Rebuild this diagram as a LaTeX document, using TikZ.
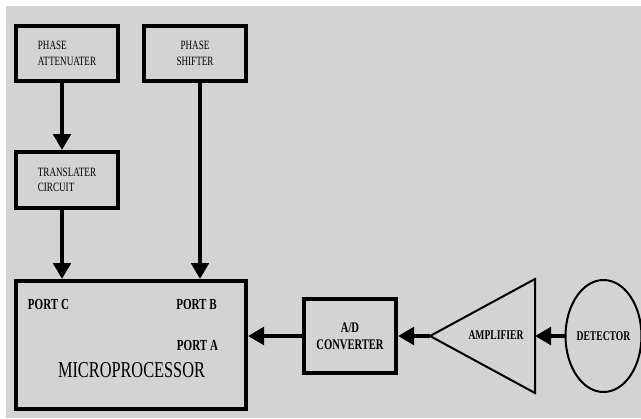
\documentclass[tikz,border=0pt]{standalone}
\usepackage{fontspec}
\setmainfont{Liberation Serif}
\newfontfamily\narrowfont[FakeStretch=0.72]{Liberation Serif}
\usetikzlibrary{arrows.meta, positioning, shapes.geometric}
\definecolor{panel}{RGB}{211,211,211}

\begin{document}
\begin{tikzpicture}[
    x=0.75pt, y=-0.75pt,
    block/.style={draw, line width=3pt, inner sep=0pt, align=center, font=\narrowfont\fontsize{9.5}{11.5}\selectfont},
    label/.style={inner sep=0pt, font=\narrowfont\bfseries\fontsize{11.5}{13}\selectfont},
    arrow/.style={-{Triangle[length=12pt, width=13pt]}, line width=3pt}
]
    % Background
    \fill[white] (0,0) rectangle (641,418);
    \useasboundingbox (0,0) rectangle (641,418);
    \fill[panel] (6,6) rectangle (641,418);

    % Phase blocks on top
    \node[block, align=left, minimum width=76.5pt, minimum height=41.25pt] (att) at (67,53.5) {PHASE\\ATTENUATER};
    \node[block, minimum width=76.5pt, minimum height=41.25pt] (shifter) at (195,53.5) {PHASE\\SHIFTER};
    \node[block, align=left, minimum width=76.5pt, minimum height=42pt] (trans) at (67,180) {TRANSLATER\\CIRCUIT};

    % Microprocessor and its ports
    \node[block, minimum width=172.5pt, minimum height=96pt] (micro) at (131,345) {};
    \node[label] (portc) at (48.5,304) {PORT C};
    \node[label] (portb) at (196.5,304) {PORT B};
    \node[label] (porta) at (197.5,345) {PORT A};
    \node[inner sep=0pt, font=\narrowfont\fontsize{17}{18}\selectfont] (mptext) at (131.5,370) {MICROPROCESSOR};

    % Signal chain on the right
    \node[block, font=\narrowfont\bfseries\fontsize{11}{13}\selectfont, minimum width=69pt, minimum height=55.5pt] (adc) at (350,336) {A/D\\CONVERTER};
    \draw[line width=1.5pt, line join=miter] (430,336) -- (535,279) -- (535,393) -- cycle;
    \coordinate (ampout) at (430,336);
    \coordinate (ampin) at (535,336);
    \node[label, font=\narrowfont\bfseries\fontsize{10}{11}\selectfont] (amp) at (496,335) {AMPLIFIER};
    \node[ellipse, draw, line width=1.5pt, inner sep=0pt, minimum width=51.75pt, minimum height=84pt, font=\narrowfont\bfseries\fontsize{10}{11}\selectfont] (det) at (603.5,336) {DETECTOR};

    % Connections
    \draw[arrow] ([xshift=-3.75pt]att.south) -- ([xshift=-3.75pt]trans.north);
    \draw[arrow] ([xshift=-3.75pt]trans.south) -- ([xshift=-3.75pt]trans.south |- micro.north);
    \draw[arrow] ([xshift=3.75pt]shifter.south) -- ([xshift=3.75pt]shifter.south |- micro.north);
    \draw[arrow] (adc.west) -- (adc.west -| micro.east);
    \draw[arrow] (ampout) -- (adc.east);
    \draw[arrow] (det.west) -- (ampin);
\end{tikzpicture}
\end{document}
